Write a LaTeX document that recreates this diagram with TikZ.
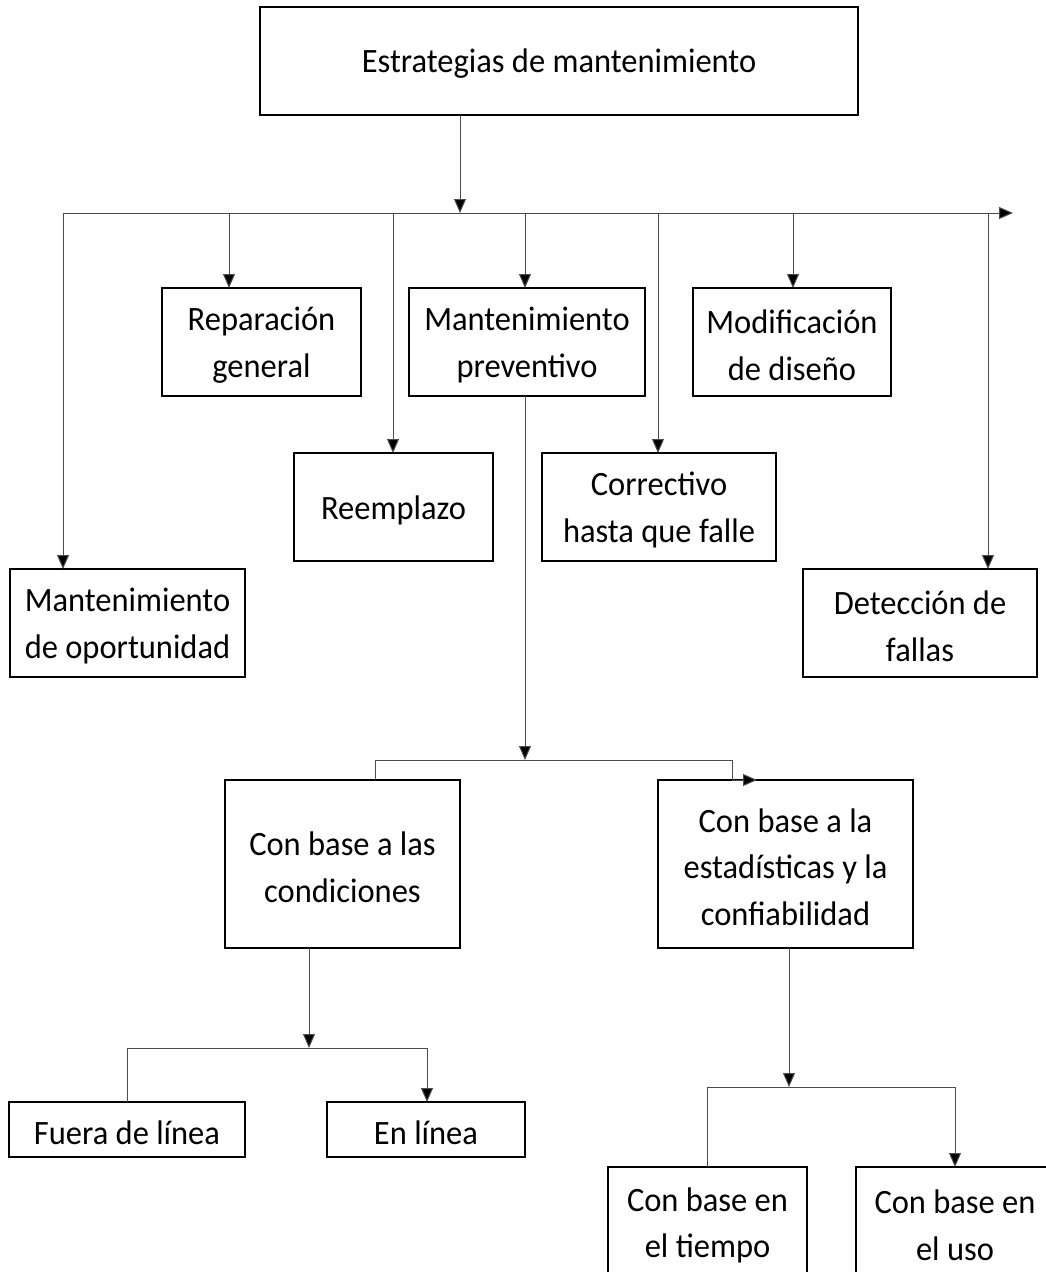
\documentclass[tikz,border=0pt]{standalone}
\usepackage{fontspec}
\setmainfont{Carlito}
\usetikzlibrary{arrows.meta}
\newcommand{\boxnode}[6]{%
  \node[bx, minimum width=#4, minimum height=#5] (#1) at (#2,#3) {};
  \node[txt] (#1-t) at ([yshift=-3pt]#1.center) {#6};}
\begin{document}
\begin{tikzpicture}[x=1pt,y=-1pt,
  bx/.style={draw=black, line width=1.5pt, inner sep=0pt, outer sep=0pt},
  txt/.style={inner sep=0pt, align=center, font=\fontsize{32.5}{44.5}\selectfont,
    yscale=1.05, transform shape},
  conn/.style={draw=black!70, line width=1pt},
  arr/.style={conn, -{Triangle[length=14pt,width=12pt,fill=black]}}]
\useasboundingbox (0,0) rectangle (1046,1272);
\clip (0,0) rectangle (1046,1272);
% boxes
\boxnode{top}{559}{61}{598}{108}{Estrategias de mantenimiento}
\boxnode{rep}{261.5}{342}{199}{108}{Reparación\\general}
\boxnode{prev}{527}{342}{236}{108}{Mantenimiento\\preventivo}
\boxnode{mod}{792}{342}{198}{108}{Modificación\\de diseño}
\boxnode{reem}{393.5}{507}{199}{108}{Reemplazo}
\boxnode{corr}{659}{507}{234}{108}{Correctivo\\hasta que falle}
\boxnode{opor}{127.5}{623}{235}{108}{Mantenimiento\\de oportunidad}
\boxnode{det}{920}{623}{234}{108}{Detección de\\fallas}
\boxnode{cond}{342.5}{864}{235}{168}{Con base a las\\condiciones}
\boxnode{stat}{785.5}{864}{255}{168}{Con base a la\\estadísticas y la\\confiabilidad}
\boxnode{fuera}{127}{1129.5}{236}{55}{Fuera de línea}
\boxnode{enl}{426}{1129.5}{198}{55}{En línea}
\boxnode{tiem}{707.5}{1222.5}{199}{111}{Con base en\\el tiempo}
\boxnode{uso}{955}{1222.5}{198}{111}{Con base en\\el uso}
% main bus
\coordinate (busT) at (460,213);
\coordinate (busL) at (63,213);
\coordinate (busR) at (1013,213);
\coordinate (d1) at (229,213);
\coordinate (d2) at (393,213);
\coordinate (d3) at (525,213);
\coordinate (d4) at (658,213);
\coordinate (d5) at (793,213);
\coordinate (d6) at (988,213);
\draw[arr] (top.south -| busT) -- (busT);
\draw[arr] (busL) -- (busR);
\draw[arr] (busL) -- (busL |- opor.north);
\draw[arr] (d1) -- (d1 |- rep.north);
\draw[arr] (d2) -- (d2 |- reem.north);
\draw[arr] (d3) -- (d3 |- prev.north);
\draw[arr] (d4) -- (d4 |- corr.north);
\draw[arr] (d5) -- (d5 |- mod.north);
\draw[arr] (d6) -- (d6 |- det.north);
% preventive bus
\coordinate (p0) at (525,760);
\coordinate (pL) at (375,760);
\coordinate (pR) at (732,760);
\coordinate (pE) at (757,780);
\draw[arr] (prev.south -| p0) -- (p0);
\draw[conn] (pL) -- (pR);
\draw[conn] (pL) -- (pL |- cond.north);
\draw[arr] (pR) -- (pR |- stat.north) -- (pE);
% conditions bus
\coordinate (c0) at (309,1048);
\coordinate (cL) at (127,1048);
\coordinate (cR) at (427,1048);
\draw[arr] (cond.south -| c0) -- (c0);
\draw[conn] (cL) -- (cR);
\draw[conn] (cL) -- (cL |- fuera.north);
\draw[arr] (cR) -- (cR |- enl.north);
% statistics bus
\coordinate (s0) at (789,1087);
\coordinate (sL) at (707,1087);
\coordinate (sR) at (955,1087);
\draw[arr] (stat.south -| s0) -- (s0);
\draw[conn] (sL) -- (sR);
\draw[conn] (sL) -- (sL |- tiem.north);
\draw[arr] (sR) -- (sR |- uso.north);
\end{tikzpicture}
\end{document}
